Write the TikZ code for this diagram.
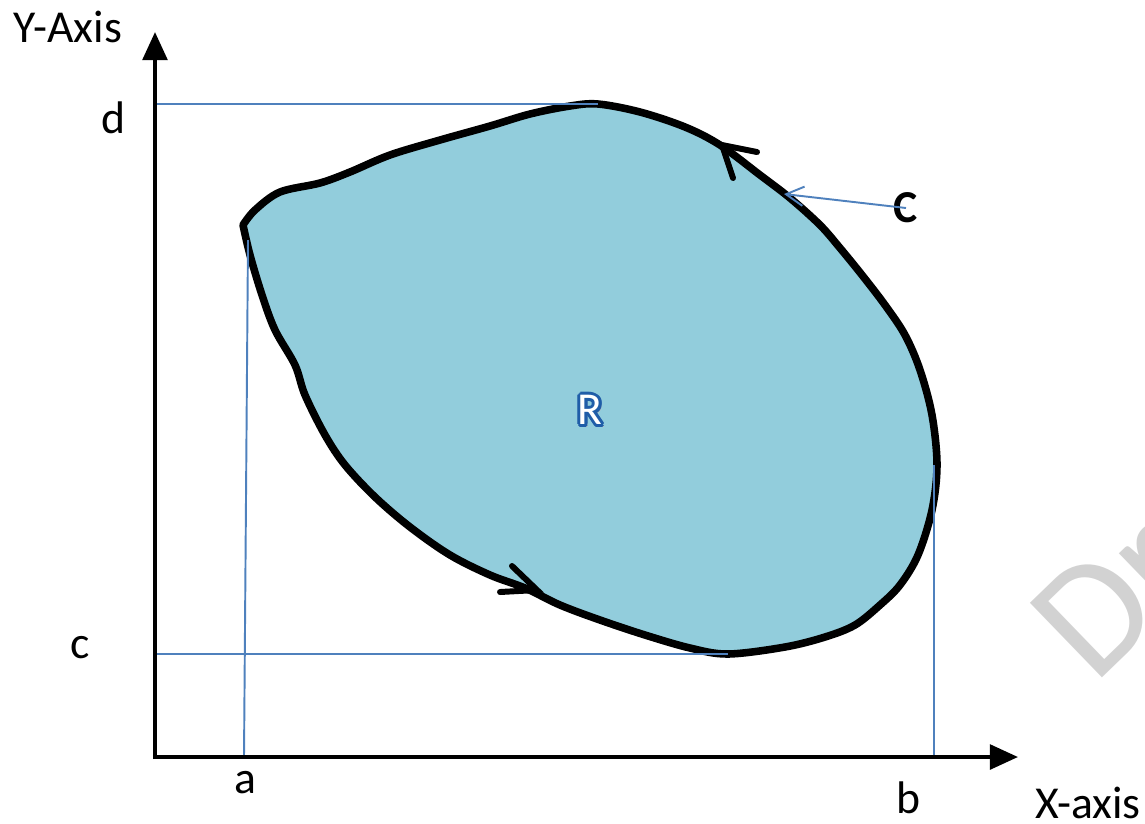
\documentclass[tikz,border=0pt]{standalone}
\usepackage{fontspec}
\setmainfont{Carlito}
\usetikzlibrary{arrows.meta,calc}
\definecolor{regionblue}{HTML}{92CDDC}
\definecolor{lineblue}{HTML}{4F81BD}
\definecolor{labelblue}{HTML}{1F5DA8}

\begin{document}
\begin{tikzpicture}[x={(0.02cm,0)}, y={(0,-0.02cm)},
  lbl/.style={font=\fontsize{26}{30}\selectfont, inner sep=0pt},
  guide/.style={draw=lineblue, line width=1.1pt},
  axis/.style={line width=2.3pt, -{Triangle[length=16pt, width=14pt]}},
  chevron/.style={line width=3.4pt, line cap=round}]
  % Canvas
  \useasboundingbox (0, 0) rectangle (1145, 823);

  % Watermark
  \node[anchor=base west, rotate=44, text=gray!35, inner sep=0pt,
        font=\fontsize{92}{96}\selectfont] (wm) at (1094, 686) {Draft};

  % Region R
  \draw[fill=regionblue, line width=4.3pt, line join=round]
    plot[smooth, tension=0.55] coordinates {
      (243,225) (255,210) (280,192) (320,183) (350,172) (390,155) (440,140)
      (490,126) (530,114) (570,106) (598,104) (640,112) (685,127) (720,145)
      (760,175) (790,198) (820,225) (840,248) (862,275) (885,305) (905,335)
      (920,370) (932,415) (937,465) (932,510) (918,555) (900,585) (880,605)
      (855,625) (825,637) (785,647) (728,654) (690,648) (645,635) (600,620)
      (560,605) (525,588) (490,575) (450,555) (410,527) (375,497) (345,465)
      (325,435) (305,395) (295,365) (275,330) (262,295) (250,255) (243,225)}
    -- cycle;

  % Orientation marks on the boundary
  \coordinate (topTip) at (722, 145);
  \coordinate (botTip) at (537, 590);
  \draw[chevron] (757, 152) -- (topTip) -- (733, 178);
  \draw[chevron] (512, 566) -- (botTip) -- (500, 592);

  % Guide lines
  \coordinate (dEnd) at (598, 104);
  \coordinate (cEnd) at (728, 654);
  \coordinate (aTop) at (248, 240);
  \coordinate (bTop) at (934, 465);
  \draw[guide] (155, 104) -- (dEnd);
  \draw[guide] (155, 654) -- (cEnd);
  \draw[guide] (244, 757) -- (aTop);
  \draw[guide] (934, 757) -- (bTop);

  % Axes
  \coordinate (O) at (155, 757);
  \coordinate (yTip) at (155, 32);
  \coordinate (xTip) at (1018, 757);
  \draw[axis] ([yshift=-1.15pt]O) -- (yTip);
  \draw[axis] ([xshift=-1.15pt]O) -- (xTip);

  % Axis labels
  \node[lbl] (ylabel) at (68, 27) {Y-Axis};
  \node[lbl] (xlabel) at (1088, 803) {X-axis};
  \node[lbl] (dlabel) at (113, 118) {d};
  \node[lbl] (clabel) at (80, 648) {c};
  \node[lbl] (alabel) at (245, 783) {a};
  \node[lbl] (blabel) at (908, 798) {b};

  % Curve label
  \coordinate (Ctip) at (784, 194);
  \node[lbl, font=\fontsize{26}{30}\selectfont\bfseries] (Clabel) at (906, 208) {C};
  \draw[guide, -{Straight Barb[length=10pt, width=11pt]}] (Clabel.center) -- (Ctip);

  % Region label
  \node[lbl, text=black!25] at (593, 413) {R};
  \foreach \ang in {0,30,...,330}
    \node[lbl, text=labelblue] at ($(590, 410)+(\ang:3)$) {R};
  \node[lbl, text=white] (R) at (590, 410) {R};
\end{tikzpicture}
\end{document}
